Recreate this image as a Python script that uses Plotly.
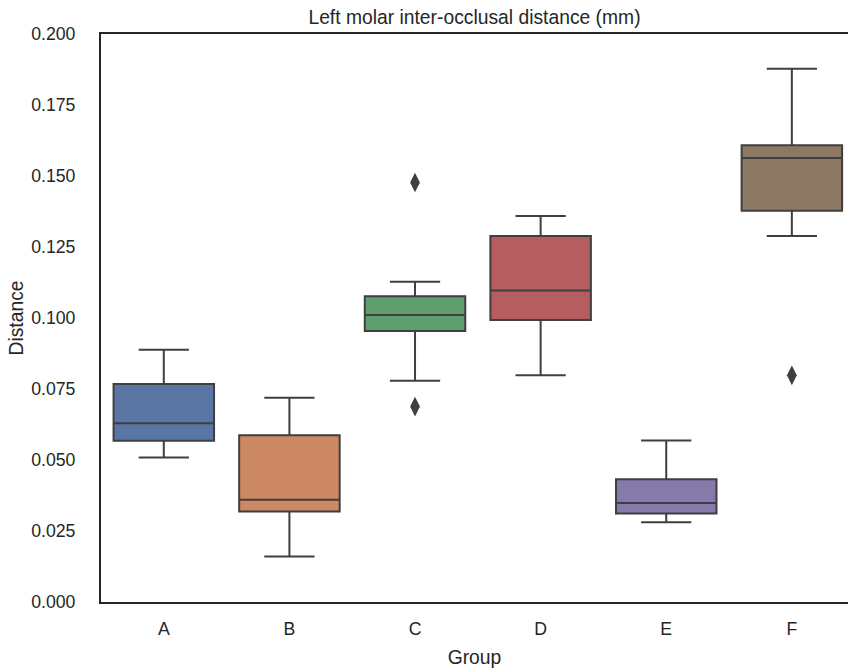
import plotly.graph_objects as go

groups = ["A", "B", "C", "D", "E", "F"]
q1 = [0.0568, 0.0319, 0.0954, 0.0993, 0.0312, 0.1378]
median = [0.0629, 0.0360, 0.1011, 0.1097, 0.0349, 0.1563]
q3 = [0.0768, 0.0587, 0.1077, 0.1289, 0.0432, 0.1608]
lower = [0.0509, 0.0160, 0.0779, 0.0798, 0.0281, 0.1289]
upper = [0.0888, 0.0719, 0.1128, 0.1359, 0.0569, 0.1878]
outlier_groups = ["C", "C", "F"]
outlier_values = [0.1477, 0.0688, 0.0798]
colors = ["#5975a4", "#cc8963", "#5f9e6e", "#b55d60", "#857aab", "#8d7866"]
yticks = [0.0, 0.025, 0.05, 0.075, 0.1, 0.125, 0.15, 0.175, 0.2]

line_col = "#3f3f3f"
fig = go.Figure()
for i, g in enumerate(groups):
    fig.add_trace(go.Box(
        x=[g], q1=[q1[i]], median=[median[i]], q3=[q3[i]],
        lowerfence=[lower[i]], upperfence=[upper[i]],
        fillcolor=colors[i], line=dict(color=line_col, width=2),
        width=0.8, whiskerwidth=0.5, boxpoints=False, showlegend=False,
    ))
fig.add_trace(go.Scatter(
    x=outlier_groups, y=outlier_values, mode="markers",
    marker=dict(symbol="diamond-tall", size=14, color=line_col),
    showlegend=False,
))

W, H = 848, 668
fnt = "Liberation Sans, Arial, sans-serif"
fig.update_layout(
    width=W, height=H,
    margin=dict(l=101, r=0, t=34, b=66, autoexpand=False),
    plot_bgcolor="white", paper_bgcolor="white",
    font=dict(family=fnt, size=17.7, color="#262626"),
    title=dict(text="Left molar inter-occlusal distance (mm)", x=0.5, xref="paper",
               y=1 - 17 / H, yref="container", yanchor="middle",
               font=dict(size=19.3, color="#262626")),
    xaxis=dict(categoryorder="array", categoryarray=groups,
               range=[-0.5, 5.447], showline=True, linecolor="#262626", linewidth=2,
               mirror=True, showgrid=False, zeroline=False, ticks="",
               ticklabelstandoff=10, automargin=False,
               title=dict(text="Group", standoff=16, font=dict(size=19.3))),
    yaxis=dict(range=[0, 0.2], tickvals=yticks, tickformat=".3f",
               showline=True, linecolor="#262626", linewidth=2, mirror=False,
               showgrid=False, zeroline=False, ticks="", ticklabelstandoff=20,
               automargin=False,
               title=dict(text="Distance", standoff=2, font=dict(size=19.3))),
)
fig.write_html(
    "out.html",
    config={"displayModeBar": False},
    post_script="document.body.style.margin='0';document.body.style.overflow='hidden';",
)
